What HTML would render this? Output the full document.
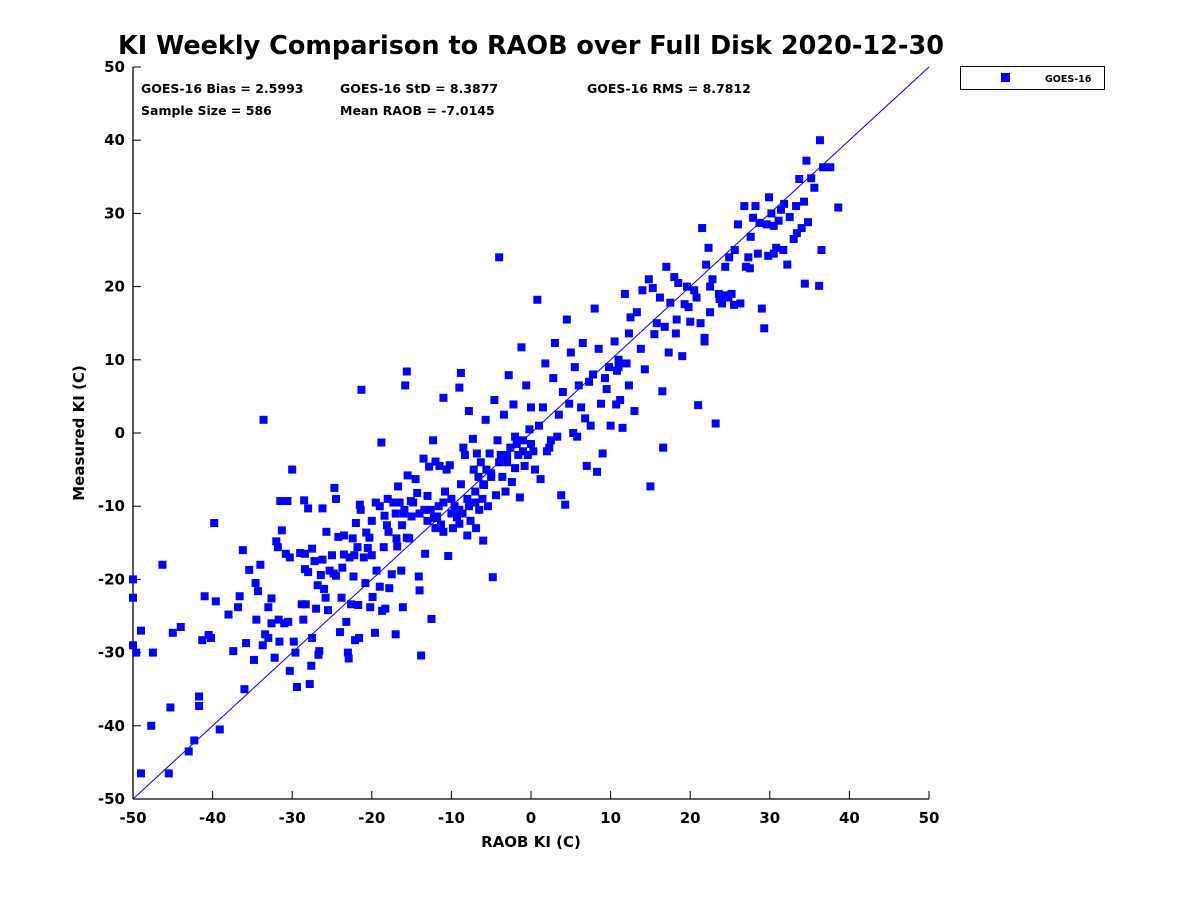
<!DOCTYPE html>
<html><head><meta charset="utf-8"><style>
html,body{margin:0;padding:0;background:#fff;}
svg{display:block;font-family:"DejaVu Sans","Liberation Sans",sans-serif;font-weight:bold;}
</style></head><body>
<svg id="chart" width="1200" height="900" viewBox="0 0 1200 900">
<text x="531" y="54" font-size="25.5" text-anchor="middle">KI Weekly Comparison to RAOB over Full Disk 2020-12-30</text>
<g font-size="12.5">
<text x="141" y="93">GOES-16 Bias = 2.5993</text>
<text x="340" y="93">GOES-16 StD = 8.3877</text>
<text x="587" y="93">GOES-16 RMS = 8.7812</text>
<text x="141" y="115">Sample Size = 586</text>
<text x="340" y="115">Mean RAOB = -7.0145</text>
</g>
<g>
<rect x="960.5" y="66.5" width="144" height="23" fill="#fff" stroke="#000" stroke-width="1"/>
<rect x="1001" y="73" width="9" height="9" fill="#0000ff"/>
<text x="1045" y="82" font-size="9.5">GOES-16</text>
</g>
<text transform="translate(84,433) rotate(-90)" font-size="15" text-anchor="middle">Measured KI (C)</text>
<text x="531" y="847" font-size="15" text-anchor="middle">RAOB KI (C)</text>
<g id="axes"></g>
<g id="marks"></g>
</svg>
<script>
const ticks = [-50,-40,-30,-20,-10,0,10,20,30,40,50];
const raobX = [-50,-50,-50,-49.6,-49,-49,-47.7,-47.5,-46.3,-45.5,-45.3,-45,-44,-43,-42.3,-41.7,-41.7,-41.3,-41,-40.5,-40.2,-39.6,-39.8,-39.1,-38,-37.4,-36.8,-36.6,-36.2,-36,-35.8,-35.4,-34.8,-34.6,-34.5,-34.3,-34,-33.7,-33.6,-33.4,-33,-33,-32.6,-32.6,-32.2,-32,-31.8,-31.7,-31.6,-31.5,-31.3,-31,-30.8,-30.6,-30.5,-30.3,-30.3,-30,-29.8,-29.6,-29.4,-29,-28.8,-28.6,-28.4,-28.4,-28.3,-28,-28,-27.8,-27.6,-27.5,-27.5,-27.2,-27,-26.8,-26.7,-26.6,-26.4,-26.2,-26.2,-26,-25.8,-25.7,-25.5,-25.3,-25,-24.8,-24.7,-24.5,-24.5,-24.2,-24,-23.8,-23.7,-23.5,-23.5,-23.2,-23,-22.9,-22.8,-22.6,-22.4,-22.3,-22.2,-22.1,-22,-21.8,-21.7,-21.6,-21.5,-21.4,-21.3,-21,-20.8,-20.7,-20.5,-20.3,-20.2,-20,-19.9,-19.6,-19.4,-19,-18.8,-18.7,-18.5,-18.4,-18.3,-18.1,-17.9,-17.8,-17.5,-17.3,-17,-16.9,-16.8,-16.7,-16.5,-16.3,-16.2,-16.1,-15.9,-15.6,-15.5,-15.3,-15.1,-15,-14.8,-14.5,-14.3,-14.1,-14,-13.8,-13.5,-13.4,-13.3,-13,-12.8,-12.6,-12.5,-12.3,-12.2,-12,-11.8,-11.6,-11.5,-11.3,-11,-10.8,-10.6,-10.4,-10.2,-10,-9.8,-9.6,-9.3,-9,-8.8,-8.6,-8.5,-8.3,-8,-7.8,-7.6,-7.3,-7.2,-7,-6.9,-6.8,-6.6,-6.5,-6.3,-6.1,-6,-5.9,-5.7,-5.6,-5.4,-5.2,-5,-4.8,-4.6,-4.4,-4.2,-4,-3.8,-3.6,-3.4,-3.2,-3,-2.8,-2.6,-2.4,-2.2,-2,-1.8,-1.6,-1.4,-1.2,-1,-0.8,-0.6,-0.4,-0.2,0,0.3,0.5,0.8,1,1.2,1.5,1.8,2,2.3,2.5,2.8,3,3.3,3.5,3.8,4,4.3,4.5,4.8,5,5.3,5.5,5.8,6,6.3,6.5,6.8,7,7.3,7.5,7.8,8,8.3,8.5,8.8,9,9.3,9.5,9.8,10,10.5,10.8,11,11.2,11.5,11.8,12,12.3,12.5,13,13.3,13.8,14,14.3,14.8,15,15.3,15.5,15.8,16.2,16.5,16.6,17,17.3,17.5,18,18.3,18.5,19,19.3,19.6,20,20.5,21,21.3,21.5,21.8,22,22.3,22.5,22.8,23.2,23.6,24,24.4,24.5,24.9,25.2,25.6,26,26.3,26.8,27,27.3,27.6,27.9,28.2,28.5,29,29.3,29.6,29.9,30.2,30.5,30.8,31.1,31.4,31.8,32.2,32.5,33,33.3,33.7,34,34.3,34.6,34.8,35.2,35.6,36.3,36.5,36.7,37.6,38.6,36.2,34.4,33.4,31.7,30.5,29.8,28.7,27.5,25.5,24.8,23.7,22.5,21.8,20.8,19.8,18.2,16.8,12.3,11,10.7,-15.6,-15.8,-11,-9,-8.8,-7.8,-28.5,-14,-13,-12,-11,-10,-9,-8,-7,-6,-5,-4,-3,-2,-1,0,-19,-18,-17,-16,-19.5,-20];
const measuredY = [-20,-22.5,-29,-30,-27,-46.5,-40,-30,-18,-46.5,-37.5,-27.3,-26.5,-43.5,-42,-36,-37.3,-28.3,-22.3,-27.6,-28,-23,-12.3,-40.5,-24.8,-29.8,-23.8,-22.3,-16,-35,-28.7,-18.7,-31,-20.5,-25.5,-21.6,-18,-29,1.8,-27.5,-23.8,-28,-26,-22.6,-30.7,-14.8,-15.6,-25.5,-28.5,-9.3,-13.3,-26,-16.5,-9.3,-25.8,-32.5,-17,-5,-28.5,-30,-34.7,-16.4,-23.4,-25.5,-18.6,-16.5,-23.4,-10.3,-19,-34.3,-31.8,-28,-15.8,-17.5,-24,-20.8,-30.3,-29.8,-19.4,-17.3,-10.3,-21.3,-22.5,-13.5,-24.2,-18.8,-16.7,-19.2,-7.5,-19.5,-9,-14.2,-27.2,-22.5,-18.4,-16.6,-14,-25.8,-30,-30.8,-17,-23.4,-14.4,-19.6,-16.7,-28.3,-12.3,-15.6,-23.5,-28,-9.8,-10.5,5.9,-17,-20.5,-13.6,-15.7,-14.3,-23.8,-16.7,-22.4,-27.3,-18.8,-21,-1.3,-24.3,-15.6,-11.3,-24,-12.6,-13.5,-21.2,-19.3,-9.5,-27.5,-14.4,-15.5,-7.3,-9.5,-18.8,-12.6,-23.8,-10.5,-14.3,-5.8,-14.4,-9.3,-11.4,-9.5,-6.3,-8.2,-19.6,-21.5,-30.4,-3.5,-10.5,-16.5,-8.6,-4.6,-10.5,-25.4,-1,-11.6,-3.9,-11.4,-10,-4.5,-12.5,-9.5,-8,-5,-16.8,-4.4,-9,-13,-10,-11.5,-12.4,-7,-11,-2,-3,-14,-10,-12,-0.8,-5,-8,-13,-2.8,-6,-10.5,-4,-9,-14.7,-7.1,1.8,-5,-10,-2.8,-6,-19.7,4.5,-8.5,-1,24,-3,-6,2.5,-8,-4,7.9,-2,-6.7,3.9,-4.8,-1.5,-3,-8.8,11.7,-2.5,-4.5,6.5,-3,0.5,3.5,-2.5,-5,18.2,1,-6.3,3.5,9.5,-2.5,-2,-1,7.5,12.3,-0.5,2.5,-8.5,5.6,-9.8,15.5,4,11,0,9,-0.5,6.5,3.5,12.3,2,-4.5,7,1,8,17,-5.3,11.5,4,-2.8,7.5,6,9,1,12.5,8.5,10,4.5,0.7,19,9.5,6.5,15.8,3,16.5,11.5,19.5,8.7,21,-7.3,19.8,13.5,15,18.5,5.7,-2,22.7,11,17.8,21.3,15.5,20.5,10.5,17.6,20,15.2,19.5,3.8,15,28,13,23,25.3,20,21,1.3,19,17.7,22.7,18.8,24,19,25,28.5,17.7,31,22.7,24,26.8,29.4,31,24.5,17,14.3,28.5,32.2,30,28.3,25.3,29,30.5,31.3,23,29.5,26.5,31,34.7,28,31.6,37.2,28.8,34.8,33.5,40,25,36.3,36.3,30.8,20.1,20.4,27.3,25,24.5,24.2,28.7,22.5,17.5,18.5,18.3,16.5,12.5,18.5,17.2,13.6,14.5,13.6,9,3.9,8.4,6.5,4.8,6.2,8.2,3,-9.2,-11,-12,-13,-13.5,-11,-10.5,-9,-9.5,-7,-5.5,-4,-3,-0.5,-1,-1.5,-10,-9,-11,-11,-9.5,-12];

const X0=133,X1=929,Y0=799,Y1=67;
const xs=v=>X0+(v+50)/100*(X1-X0);
const ys=v=>Y0-(v+50)/100*(Y0-Y1);
const NS="http://www.w3.org/2000/svg";
const axes=document.getElementById('axes');
const marks=document.getElementById('marks');
function mk(tag,attrs,parent){const e=document.createElementNS(NS,tag);for(const k in attrs)e.setAttribute(k,attrs[k]);parent.appendChild(e);return e;}

const yAxis=mk('line',{x1:X0,y1:Y0,x2:X0,y2:Y1,stroke:'#000','stroke-width':1.3},axes);


const xAxis=mk('line',{x1:X0,y1:Y0,x2:X1,y2:Y0,stroke:'#000','stroke-width':1.3},axes);



ticks.forEach(t=>{
  const tx=mk('line',{x1:xs(t),y1:Y0,x2:xs(t),y2:Y0-8,stroke:'#000','stroke-width':1},axes);
  
  
  const lx=mk('text',{x:xs(t),y:Y0+24,'font-size':15,'text-anchor':'middle'},axes);
  lx.textContent=t;
  
  
  const ty=mk('line',{x1:X0,y1:ys(t),x2:X0+8,y2:ys(t),stroke:'#000','stroke-width':1},axes);
  
  
  const ly=mk('text',{x:X0-8,y:ys(t)+5,'font-size':15,'text-anchor':'end'},axes);
  ly.textContent=t;
  
  
});

const ref=mk('line',{x1:xs(-50),y1:ys(-50),x2:xs(50),y2:ys(50),stroke:'#0000ff','stroke-width':1},marks);



raobX.forEach((v,i)=>{
  const r=mk('rect',{x:xs(v)-4,y:ys(measuredY[i])-4,width:8,height:8,fill:'#0000ff'},marks);
  
  
});
</script>
</body></html>
